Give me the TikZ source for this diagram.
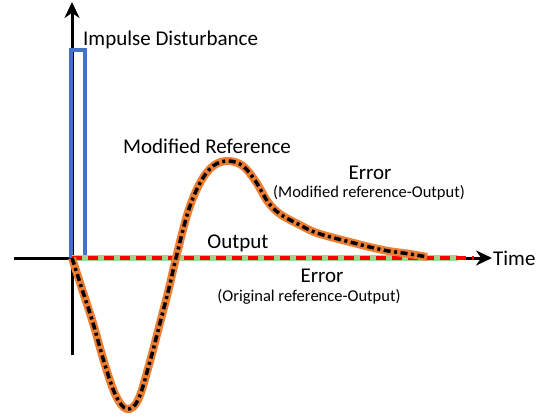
\documentclass[tikz,border=0pt]{standalone}
\usepackage{fontspec}
\setmainfont{Carlito}
\usetikzlibrary{arrows.meta}
\definecolor{impblue}{HTML}{4472C4}
\definecolor{curveorange}{HTML}{ED7D31}
\definecolor{outgreen}{HTML}{A9D18E}
\tikzset{
  axis/.style={line width=3pt,-{Stealth[length=16pt,width=15pt]}},
  lbl/.style={inner sep=0pt,font=\fontsize{21}{24}\selectfont},
  sublbl/.style={inner sep=0pt,font=\fontsize{16.5}{19}\selectfont},
}
\begin{document}
\begin{tikzpicture}[x=1pt,y=-1pt]
\useasboundingbox (0,0) rectangle (545,417);
% axes
\coordinate (o) at (72,258);
\coordinate (ybot) at (72,355);
\coordinate (ytop) at (72,2);
\coordinate (xleft) at (14,258);
\coordinate (xright) at (492,258);
\draw[axis] (ybot) -- (ytop);
\draw[axis] (xleft) -- (xright);
% impulse
\draw[impblue,line width=4pt] (71,258) -- (71,50) -- (85,50) -- (85,258);
% output
\coordinate (outend) at (458,258);
\coordinate (redend) at (474,258);
\draw[outgreen,line width=6pt] (o) -- (outend);
\draw[red,line width=3.5pt,dash pattern=on 10pt off 6pt] (o) -- (redend);
% curve
\def\curvepath{plot[smooth,tension=0.6] coordinates {(72,258) (83,292) (93,323) (105,365) (116,396) (127,409) (138,400) (149,365) (160,323) (169,288) (176,258) (188,212) (200,183) (213,166) (228,161) (243,166) (256,182) (268,202) (280,214) (298,224) (317,233) (350,242) (383,250) (410,254) (427,257)}}
\draw[curveorange,line width=8pt] \curvepath;
\draw[black,line width=3.5pt,dash pattern=on 7pt off 3.5pt on 3pt off 3.5pt] \curvepath;
% labels
\node[lbl,anchor=west] (imp) at (83,40) {Impulse Disturbance};
\node[lbl,anchor=west] (modref) at (123,146) {Modified Reference};
\node[lbl] (err1) at (370,173) {Error};
\node[sublbl] (err1b) at (369,193) {(Modified reference-Output)};
\node[lbl] (out) at (238,243) {Output};
\node[lbl] (err2) at (322,276) {Error};
\node[sublbl] (err2b) at (309,297) {(Original reference-Output)};
\node[lbl,anchor=west] (time) at (493,258) {Time};
\end{tikzpicture}
\end{document}
